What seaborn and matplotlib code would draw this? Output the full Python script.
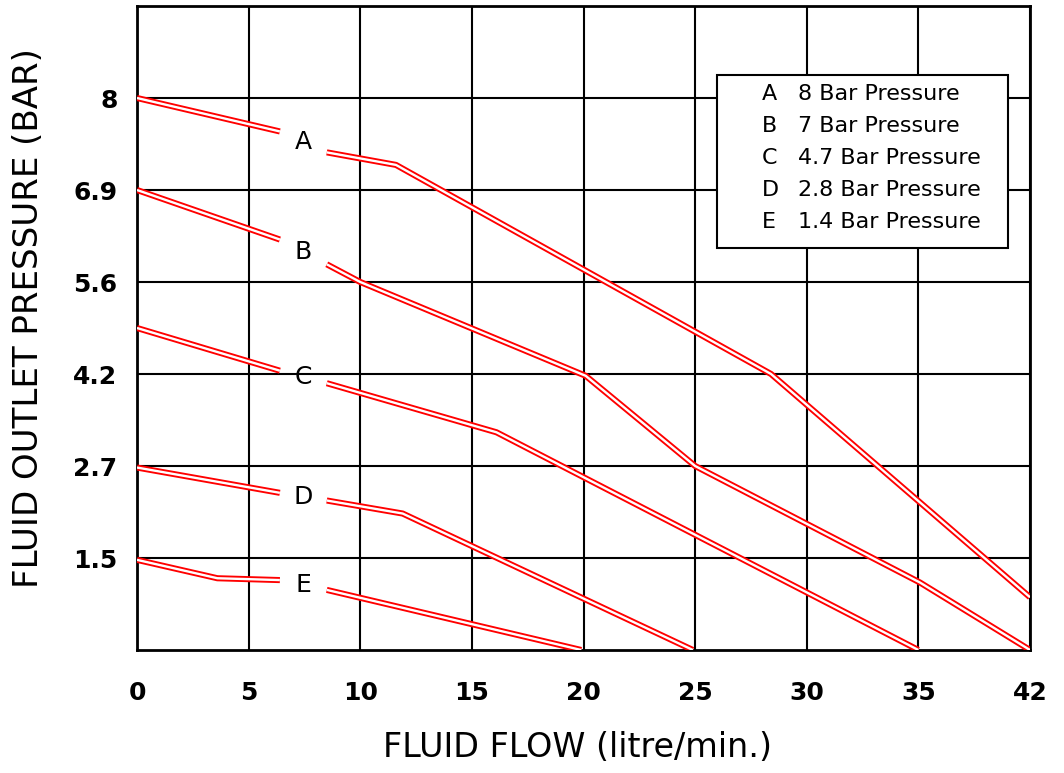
import numpy as np
import pandas as pd
import matplotlib
matplotlib.use("Agg")
import matplotlib.pyplot as plt
import seaborn as sns
from matplotlib.patches import Rectangle

# axis labels (the grid is evenly spaced even though the values are not)
flow_ticks = [0, 5, 10, 15, 20, 25, 30, 35, 42]
pressure_ticks = [1.5, 2.7, 4.2, 5.6, 6.9, 8]

curve_names = ["A", "B", "C", "D", "E"]
legend_text = ["8 Bar Pressure", "7 Bar Pressure", "4.7 Bar Pressure",
               "2.8 Bar Pressure", "1.4 Bar Pressure"]

# each curve comes in two pieces, broken where its letter sits
flow_A = [[0, 6.4], [8.5, 11.6, 28.4, 42]]
pres_A = [[8.0, 7.6], [7.35, 7.2, 4.2, 0.86]]
flow_B = [[0, 6.4], [8.5, 10.0, 20.1, 25.0, 35.1, 42]]
pres_B = [[6.9, 6.2], [5.85, 5.6, 4.17, 2.7, 1.1, 0.0]]
flow_C = [[0, 6.4], [8.5, 16.1, 35]]
pres_C = [[4.9, 4.25], [4.05, 3.25, 0.0]]
flow_D = [[0, 6.4], [8.5, 11.9, 24.9]]
pres_D = [[2.68, 2.35], [2.25, 2.08, 0.0]]
flow_E = [[0, 3.6, 6.4], [8.5, 19.9]]
pres_E = [[1.47, 1.17, 1.14], [0.98, 0.0]]

flows = [flow_A, flow_B, flow_C, flow_D, flow_E]
pressures = [pres_A, pres_B, pres_C, pres_D, pres_E]

grid_x = np.arange(len(flow_ticks)) * 5
grid_y = np.arange(len(pressure_ticks) + 1)


def xpos(f):
    return np.interp(f, flow_ticks, grid_x)


def ypos(p):
    return np.interp(p, [0] + pressure_ticks, grid_y)


rows = []
for name, fl, pr in zip(curve_names, flows, pressures):
    for i, (f, p) in enumerate(zip(fl, pr)):
        for fv, pv in zip(f, p):
            rows.append({"curve": name, "piece": f"{name}{i}",
                         "x": xpos(fv), "y": ypos(pv)})
df = pd.DataFrame(rows)

sns.set_style("white")
plt.rcParams["font.family"] = ["DejaVu Sans"]
plt.rcParams["text.color"] = "black"
plt.rcParams["axes.labelcolor"] = "black"
plt.rcParams["xtick.color"] = "black"
plt.rcParams["ytick.color"] = "black"

fig = plt.figure(figsize=(10.64, 7.73), dpi=100)
ax = fig.add_axes([137 / 1064, 1 - 650 / 773, 893 / 1064, 644 / 773])

sns.lineplot(data=df, x="x", y="y", units="piece", estimator=None, sort=False,
             color="red", lw=4.4, legend=False, ax=ax, zorder=3,
             solid_capstyle="butt")
sns.lineplot(data=df, x="x", y="y", units="piece", estimator=None, sort=False,
             color="white", lw=1.7, legend=False, ax=ax, zorder=4,
             solid_capstyle="butt")

# curve letters in the gaps
for name, fl, pr in zip(curve_names, flows, pressures):
    gx = (xpos(fl[0][-1]) + xpos(fl[1][0])) / 2
    gy = (ypos(pr[0][-1]) + ypos(pr[1][0])) / 2
    ax.text(gx, gy, name, ha="center", va="center", fontsize=18, zorder=5)

ax.set_xlim(0, 40)
ax.set_ylim(0, 7)
ax.set_xticks(grid_x)
ax.set_xticklabels([str(t) for t in flow_ticks])
ax.set_yticks(grid_y[1:])
ax.set_yticklabels([str(t) for t in pressure_ticks])
ax.tick_params(axis="both", length=0, labelsize=18)
ax.tick_params(axis="x", pad=22)
ax.tick_params(axis="y", pad=14)
for lab in ax.get_xticklabels() + ax.get_yticklabels():
    lab.set_fontweight("bold")

ax.grid(True, color="black", lw=1.5)
ax.set_axisbelow(True)
for sp in ax.spines.values():
    sp.set_color("black")
    sp.set_linewidth(2)

ax.set_xlabel("FLUID FLOW (litre/min.)", fontsize=24)
ax.set_ylabel("FLUID OUTLET PRESSURE (BAR)", fontsize=24.5)
ax.xaxis.set_label_coords(0.493, -0.152)
ax.xaxis.label.set_verticalalignment("center")
ax.yaxis.set_label_coords(-0.122, 0.515)
ax.yaxis.label.set_verticalalignment("center")

# key box
ax.add_patch(Rectangle((0.6495, 0.624), 0.3255, 0.269, transform=ax.transAxes,
                       facecolor="white", edgecolor="black", lw=1.5, zorder=6))
row_y = [0.863, 0.814, 0.764, 0.714, 0.665]
for name, txt, yy in zip(curve_names, legend_text, row_y):
    ax.text(0.700, yy, name, transform=ax.transAxes, ha="left", va="center",
            fontsize=16, zorder=7)
    ax.text(0.740, yy, txt, transform=ax.transAxes, ha="left", va="center",
            fontsize=16, zorder=7)

fig.savefig("out.png", dpi=100)
